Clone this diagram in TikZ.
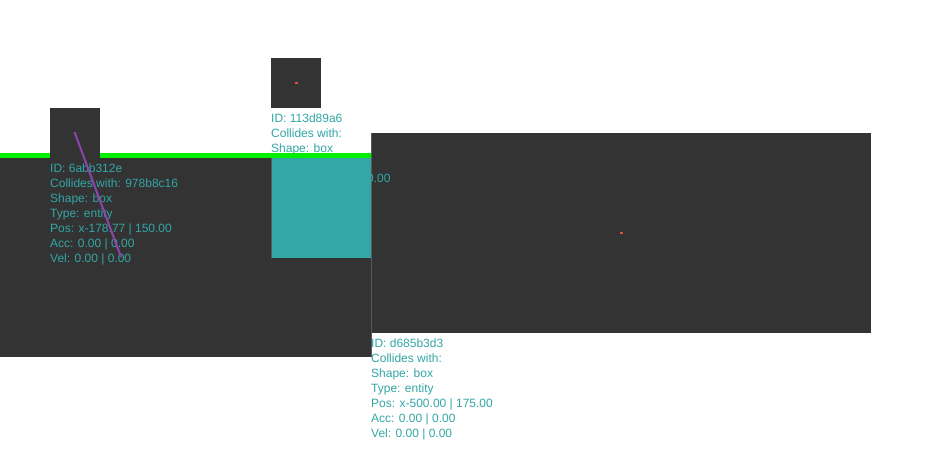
\documentclass[tikz,border=0pt]{standalone}
\usepackage{fontspec}
\setmainfont{Liberation Sans}
\definecolor{darkbox}{HTML}{333333}
\definecolor{tealc}{HTML}{33A6A6}
\definecolor{greenbar}{HTML}{00F000}
\definecolor{purplec}{HTML}{8E44AD}
\definecolor{redc}{HTML}{E0503C}
\definecolor{edgec}{HTML}{5A5A5A}
\begin{document}
\begin{tikzpicture}[x=1pt,y=-1pt,
  lbl/.style={anchor=base west,inner sep=0pt,text=tealc,font=\fontsize{12}{15}\selectfont},
  dark/.style={fill=darkbox,draw=none}]
\useasboundingbox (0,0) rectangle (932,455);
\fill[white] (0,0) rectangle (932,455);
% left big body
\fill[darkbox] (0,153) rectangle (371,357);
\fill[greenbar] (0,153) rectangle (371,157.5);
% small box of entity 6abb312e
\fill[darkbox] (50,108) rectangle (100,158);
% right big body
\fill[darkbox] (371,133) rectangle (871,333);
\draw[edgec,line width=0.8pt] (371.4,133) -- (371.4,357);
% partially hidden text
\node[lbl] (hidden) at (367,182) {0.00};
% teal body
\fill[tealc] (271,157.5) rectangle (371,258);
\draw[edgec,line width=0.6pt] (271.3,157.5) -- (271.3,258);
% small box of entity 113d89a6
\fill[darkbox] (271,58) rectangle (321,108);
% labels
\foreach \t [count=\i] in {ID: 6abb312e,Collides with: 978b8c16,Shape: box,Type: entity,Pos: x-178.77 | 150.00,Acc: 0.00 | 0.00,Vel: 0.00 | 0.00}
  \node[lbl] (a\i) at (50,172+15*\i-15) {\t};
\foreach \t [count=\i] in {ID: 113d89a6,Collides with:,Shape: box}
  \node[lbl] (b\i) at (271,122+15*\i-15) {\t};
\foreach \t [count=\i] in {ID: d685b3d3,Collides with:,Shape: box,Type: entity,Pos: x-500.00 | 175.00,Acc: 0.00 | 0.00,Vel: 0.00 | 0.00}
  \node[lbl] (c\i) at (371,347+15*\i-15) {\t};
% purple direction line
\coordinate (p1) at (74.5,132);
\coordinate (p2) at (121,257);
\draw[purplec,line width=2pt] (p1) -- (p2);
% red centre dots
\fill[redc] (295,82) rectangle (298,84);
\fill[redc] (620,232) rectangle (623,234);
\end{tikzpicture}
\end{document}
